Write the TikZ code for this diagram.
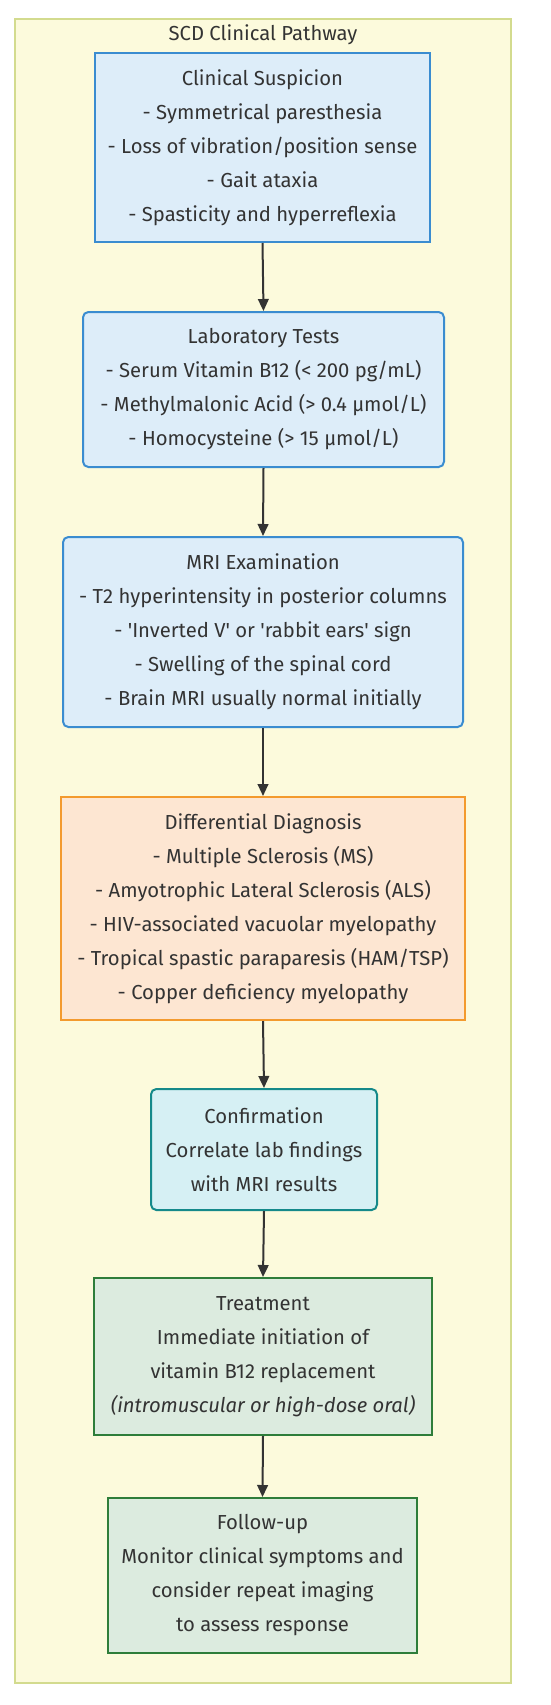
\documentclass[tikz,border=0pt]{standalone}
\usepackage{fontspec}
\setmainfont{Fira Sans}
\usetikzlibrary{arrows.meta}
\definecolor{framefill}{HTML}{FCFADC}
\definecolor{framedraw}{HTML}{D3DB8E}
\definecolor{bluefill}{HTML}{DDEDF9}
\definecolor{bluedraw}{HTML}{3A8CD0}
\definecolor{orangefill}{HTML}{FDE6D2}
\definecolor{orangedraw}{HTML}{F39A2E}
\definecolor{tealfill}{HTML}{D6F0F4}
\definecolor{tealdraw}{HTML}{15898A}
\definecolor{greenfill}{HTML}{DCEBDF}
\definecolor{greendraw}{HTML}{2E7D3A}
\definecolor{txt}{HTML}{333333}
\definecolor{arrowcol}{HTML}{333333}
\tikzset{
  txtstyle/.style={text=txt, font=\fontsize{15.2pt}{25.5pt}\selectfont, align=center, inner sep=0pt},
  bluebox/.style={txtstyle, draw=bluedraw, fill=bluefill, line width=1.5pt},
  orangebox/.style={txtstyle, draw=orangedraw, fill=orangefill, line width=1.5pt},
  tealbox/.style={txtstyle, draw=tealdraw, fill=tealfill, line width=1.5pt, rounded corners=4pt},
  greenbox/.style={txtstyle, draw=greendraw, fill=greenfill, line width=1.5pt},
  roundbox/.style={rounded corners=4pt},
  flowarrow/.style={draw=arrowcol, line width=1.5pt, -{Triangle[length=9pt,width=8pt]}}
}
\begin{document}
\begin{tikzpicture}[x=0.75pt,y=-0.75pt]
\useasboundingbox (0,0) rectangle (550,1705);
\fill[white] (0,0) rectangle (550,1705);
\draw[draw=framedraw, fill=framefill, line width=1.5pt] (15,19) rectangle (511,1683);
\node[txtstyle] (title) at (263,35) {SCD Clinical Pathway};

\node[bluebox, minimum width=251.25pt, minimum height=141.75pt] (n1) at (262.5,147.5)
  {Clinical Suspicion\\- Symmetrical paresthesia\\- Loss of vibration/position sense\\- Gait ataxia\\- Spasticity and hyperreflexia};
\node[bluebox, roundbox, minimum width=270.75pt, minimum height=116.25pt] (n2) at (263.5,389.5)
  {Laboratory Tests\\- Serum Vitamin B12 (< 200 pg/mL)\\- Methylmalonic Acid (> 0.4 µmol/L)\\- Homocysteine (> 15 µmol/L)};
\node[bluebox, roundbox, minimum width=300pt, minimum height=142.5pt] (n3) at (263,632)
  {MRI Examination\\- T2 hyperintensity in posterior columns\\- \textquotesingle Inverted V\textquotesingle{} or \textquotesingle rabbit ears\textquotesingle{} sign\\- Swelling of the spinal cord\\- Brain MRI usually normal initially};
\node[orangebox, minimum width=303pt, minimum height=167.25pt] (n4) at (263,908.5)
  {Differential Diagnosis\\- Multiple Sclerosis (MS)\\- Amyotrophic Lateral Sclerosis (ALS)\\- HIV-associated vacuolar myelopathy\\- Tropical spastic paraparesis (HAM/TSP)\\- Copper deficiency myelopathy};
\node[tealbox, minimum width=169.5pt, minimum height=90.75pt] (n5) at (264,1149.5)
  {Confirmation\\Correlate lab findings\\with MRI results};
\node[greenbox, minimum width=253.5pt, minimum height=117.75pt] (n6) at (263,1356.5)
  {Treatment\\Immediate initiation of\\vitamin B12 replacement\\{\itshape (intromuscular or high-dose oral)}};
\node[greenbox, minimum width=231.75pt, minimum height=116.25pt] (n7) at (262.5,1575.5)
  {Follow-up\\Monitor clinical symptoms and\\consider repeat imaging\\to assess response};

\draw[flowarrow] (n1.south) -- (n2.north);
\draw[flowarrow] (n2.south) -- (n3.north);
\draw[flowarrow] (n3.south) -- (n4.north);
\draw[flowarrow] (n4.south) -- (n5.north);
\draw[flowarrow] (n5.south) -- (n6.north);
\draw[flowarrow] (n6.south) -- (n7.north);
\end{tikzpicture}
\end{document}
